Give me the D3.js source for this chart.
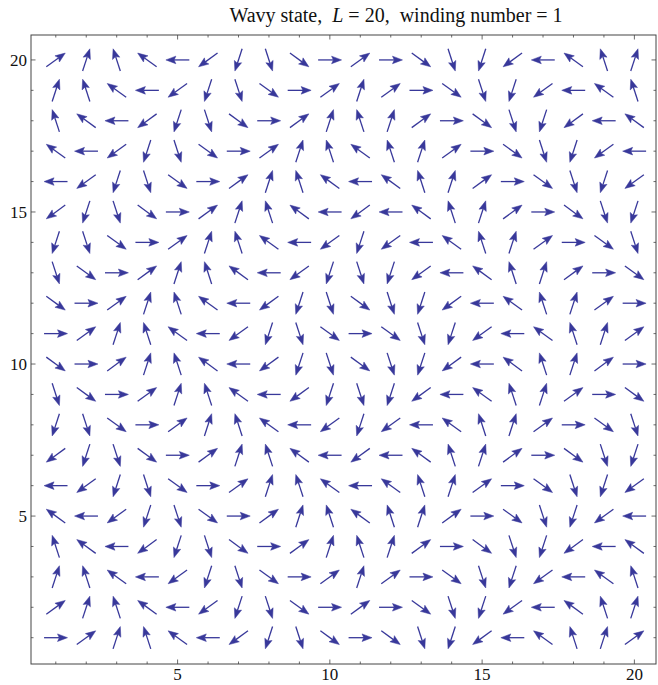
<!DOCTYPE html>
<html>
<head>
<meta charset="utf-8">
<script src="https://cdnjs.cloudflare.com/ajax/libs/d3/7.8.5/d3.min.js"></script>
<style>
  html, body { margin: 0; padding: 0; background: #ffffff; }
  svg { display: block; }
</style>
</head>
<body>
<svg id="chart" width="658" height="685"></svg>
<script>
// Spin direction on each lattice site, as a clock index k (angle = k * 36°).
// Rows run from y = 20 (top) down to y = 1; columns run x = 1 .. 20.
const row20 = [1,2,3,4,5,6,7,8,9,0,1,0,9,8,7,6,5,4,3,2];
const row19 = [2,3,4,5,6,7,8,9,0,1,2,1,0,9,8,7,6,5,4,3];
const row18 = [3,4,5,6,7,8,9,0,1,2,3,2,1,0,9,8,7,6,5,4];
const row17 = [4,5,6,7,8,9,0,1,2,3,4,3,2,1,0,9,8,7,6,5];
const row16 = [5,6,7,8,9,0,1,2,3,4,5,4,3,2,1,0,9,8,7,6];
const row15 = [6,7,8,9,0,1,2,3,4,5,6,5,4,3,2,1,0,9,8,7];
const row14 = [7,8,9,0,1,2,3,4,5,6,7,6,5,4,3,2,1,0,9,8];
const row13 = [8,9,0,1,2,3,4,5,6,7,8,7,6,5,4,3,2,1,0,9];
const row12 = [9,0,1,2,3,4,5,6,7,8,9,8,7,6,5,4,3,2,1,0];
const row11 = [0,1,2,3,4,5,6,7,8,9,0,9,8,7,6,5,4,3,2,1];
const row10 = [9,0,1,2,3,4,5,6,7,8,9,8,7,6,5,4,3,2,1,0];
const row09 = [8,9,0,1,2,3,4,5,6,7,8,7,6,5,4,3,2,1,0,9];
const row08 = [7,8,9,0,1,2,3,4,5,6,7,6,5,4,3,2,1,0,9,8];
const row07 = [6,7,8,9,0,1,2,3,4,5,6,5,4,3,2,1,0,9,8,7];
const row06 = [5,6,7,8,9,0,1,2,3,4,5,4,3,2,1,0,9,8,7,6];
const row05 = [4,5,6,7,8,9,0,1,2,3,4,3,2,1,0,9,8,7,6,5];
const row04 = [3,4,5,6,7,8,9,0,1,2,3,2,1,0,9,8,7,6,5,4];
const row03 = [2,3,4,5,6,7,8,9,0,1,2,1,0,9,8,7,6,5,4,3];
const row02 = [1,2,3,4,5,6,7,8,9,0,1,0,9,8,7,6,5,4,3,2];
const row01 = [0,1,2,3,4,5,6,7,8,9,0,9,8,7,6,5,4,3,2,1];

const rowsTopDown = [row20,row19,row18,row17,row16,row15,row14,row13,row12,row11,
                     row10,row09,row08,row07,row06,row05,row04,row03,row02,row01];
const rowY = [20,19,18,17,16,15,14,13,12,11,10,9,8,7,6,5,4,3,2,1];
const colX = [1,2,3,4,5,6,7,8,9,10,11,12,13,14,15,16,17,18,19,20];
const clockStates = 10;

const xTickLabels = [5, 10, 15, 20];
const yTickLabels = [5, 10, 15, 20];
const minorTicks = d3.range(1, 21);

const titleParts = [
  { text: "Wavy state,  ", italic: false },
  { text: "L", italic: true },
  { text: " = 20,  winding number = 1", italic: false }
];

// ---- layout ----
const frame = { left: 31, right: 656, top: 35, bottom: 664 };
const x = d3.scaleLinear().domain([0.186, 20.71]).range([frame.left, frame.right]);
const y = d3.scaleLinear().domain([0.135, 20.82]).range([frame.bottom, frame.top]);

const arrowColor = "#38389a";
const arrowLen = 0.77;     // data units, tail to tip
const headLen = 10;        // px
const headHalf = 3.8;      // px
const headNotch = 1.8;     // px

const svg = d3.select("#chart");
const serif = "'Liberation Serif', 'Times New Roman', Times, serif";

// ---- frame & ticks ----
const g = svg.append("g");
g.append("rect")
  .attr("x", frame.left).attr("y", frame.top)
  .attr("width", frame.right - frame.left).attr("height", frame.bottom - frame.top)
  .attr("fill", "none").attr("stroke", "#444").attr("stroke-width", 1);

function tickLen(v) { return xTickLabels.includes(v) ? 4.5 : 2.5; }

const tickG = g.append("g").attr("stroke", "#444").attr("stroke-width", 0.8);
minorTicks.forEach(v => {
  const px = x(v), py = y(v), L = tickLen(v);
  tickG.append("line").attr("x1", px).attr("x2", px).attr("y1", frame.bottom).attr("y2", frame.bottom - L);
  tickG.append("line").attr("x1", px).attr("x2", px).attr("y1", frame.top).attr("y2", frame.top + L);
  tickG.append("line").attr("y1", py).attr("y2", py).attr("x1", frame.left).attr("x2", frame.left + L);
  tickG.append("line").attr("y1", py).attr("y2", py).attr("x1", frame.right).attr("x2", frame.right - L);
});

g.selectAll("text.xlab").data(xTickLabels).join("text")
  .attr("class", "xlab")
  .attr("x", d => x(d)).attr("y", 680)
  .attr("text-anchor", "middle")
  .attr("font-family", serif).attr("font-size", 17).attr("fill", "#111")
  .text(d => d);

g.selectAll("text.ylab").data(yTickLabels).join("text")
  .attr("class", "ylab")
  .attr("x", 27).attr("y", d => y(d)).attr("dy", "0.35em")
  .attr("text-anchor", "end")
  .attr("font-family", serif).attr("font-size", 17).attr("fill", "#111")
  .text(d => d);

// ---- title ----
const title = svg.append("text")
  .attr("x", 396).attr("y", 22)
  .attr("text-anchor", "middle")
  .attr("font-family", serif).attr("font-size", 20).attr("fill", "#111")
  .attr("xml:space", "preserve").style("white-space", "pre");
titleParts.forEach(p => {
  title.append("tspan").attr("font-style", p.italic ? "italic" : "normal").text(p.text);
});

// ---- arrows ----
const cells = [];
rowsTopDown.forEach((row, ri) => {
  row.forEach((k, ci) => cells.push({ cx: colX[ci], cy: rowY[ri], k }));
});

const arrows = svg.append("g");
cells.forEach(d => {
  const a = 2 * Math.PI * d.k / clockStates;
  const dx = Math.cos(a) * arrowLen / 2, dy = Math.sin(a) * arrowLen / 2;
  const tx = x(d.cx - dx), ty = y(d.cy - dy);   // tail
  const hx = x(d.cx + dx), hy = y(d.cy + dy);   // tip
  const len = Math.hypot(hx - tx, hy - ty);
  const ux = (hx - tx) / len, uy = (hy - ty) / len;
  const nx = -uy, ny = ux;
  const bx = hx - ux * headLen, by = hy - uy * headLen;
  arrows.append("line")
    .attr("x1", tx).attr("y1", ty)
    .attr("x2", bx + ux * 2).attr("y2", by + uy * 2)
    .attr("stroke", arrowColor).attr("stroke-width", 1.3);
  const pts = [
    [hx, hy],
    [bx + nx * headHalf, by + ny * headHalf],
    [bx + ux * headNotch, by + uy * headNotch],
    [bx - nx * headHalf, by - ny * headHalf]
  ];
  arrows.append("polygon")
    .attr("points", pts.map(p => p.join(",")).join(" "))
    .attr("fill", arrowColor).attr("stroke", arrowColor).attr("stroke-width", 0.5);
});
</script>
</body>
</html>
